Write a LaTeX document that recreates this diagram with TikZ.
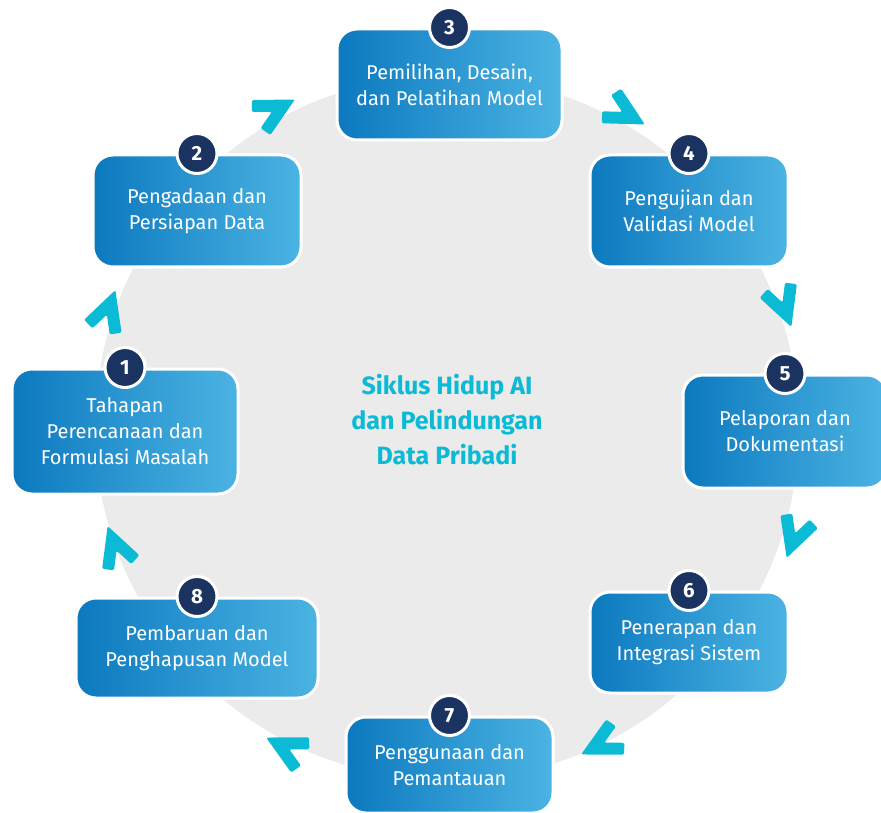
\documentclass[tikz,border=0pt]{standalone}
\usepackage{fontspec}
\setmainfont{Fira Sans}
\definecolor{bgc}{HTML}{EBEBEB}
\definecolor{bl}{HTML}{0C79BF}
\definecolor{br}{HTML}{4BB4E3}
\definecolor{navy}{HTML}{1A3360}
\definecolor{cy}{HTML}{0BBAD4}
\begin{document}
\begin{tikzpicture}[x=1pt,y=1pt,
  stepbox/.style={rectangle, rounded corners=20pt, left color=bl, right color=br, draw=white, line width=3pt, text=white, align=center, font=\fontsize{20}{26}\selectfont, inner sep=0pt},
  numc/.style={circle, fill=navy, draw=white, line width=3pt, minimum size=40pt, inner sep=0pt, text=white, font=\fontsize{20.5}{20.5}\selectfont\bfseries},
  chev/.pic={\fill[cy, rounded corners=1.5pt] (1,0) -- (-37.2,19.8) -- (-42.8,9.2) -- (-25,0) -- (-42.8,-9.2) -- (-37.2,-19.8) -- cycle;}
]
\useasboundingbox (0,0) rectangle (881,-813);
\clip (0,0) rectangle (881,-813);
\fill[bgc] (447,-428) circle (352);
% chevrons
\pic[rotate=28] at (294,-100) {chev};
\pic[rotate=-29] at (644,-124) {chev};
\pic[rotate=-70] at (791,-326) {chev};
\pic[rotate=-109] at (787,-557) {chev};
\pic[rotate=-153] at (582,-754) {chev};
\pic[rotate=153] at (267,-738) {chev};
\pic[rotate=110] at (108,-527) {chev};
\pic[rotate=71] at (115,-291) {chev};
% boxes
\node[stepbox, minimum width=226pt, minimum height=125pt] (b1) at (125,-431.5) {Tahapan\\Perencanaan dan\\Formulasi Masalah};
\node[stepbox, minimum width=208pt, minimum height=112pt] (b2) at (197,-211) {Pengadaan dan\\Persiapan Data};
\node[stepbox, minimum width=225pt, minimum height=111pt] (b3) at (449.5,-84.5) {Pemilihan, Desain,\\dan Pelatihan Model};
\node[stepbox, minimum width=198pt, minimum height=112pt] (b4) at (689,-211) {Pengujian dan\\Validasi Model};
\node[stepbox, minimum width=204pt, minimum height=113pt] (b5) at (785,-431.5) {Pelaporan dan\\Dokumentasi};
\node[stepbox, minimum width=198pt, minimum height=101pt] (b6) at (689,-642.5) {Penerapan dan\\Integrasi Sistem};
\node[stepbox, minimum width=207pt, minimum height=96pt] (b7) at (449.5,-765) {Penggunaan dan\\Pemantauan};
\node[stepbox, minimum width=242pt, minimum height=100pt] (b8) at (197,-648) {Pembaruan dan\\Penghapusan Model};
% numbers
\node[numc] (n1) at (b1.north) {1};
\node[numc] (n2) at (b2.north) {2};
\node[numc] (n3) at (b3.north) {3};
\node[numc] (n4) at (b4.north) {4};
\node[numc] (n5) at (b5.north) {5};
\node[numc] (n6) at (b6.north) {6};
\node[numc] (n7) at (b7.north) {7};
\node[numc] (n8) at (b8.north) {8};
% title
\node[text=cy, align=center, font=\fontsize{25}{35}\selectfont\bfseries] (title) at (447,-420) {Siklus Hidup AI\\dan Pelindungan\\Data Pribadi};
\end{tikzpicture}
\end{document}
